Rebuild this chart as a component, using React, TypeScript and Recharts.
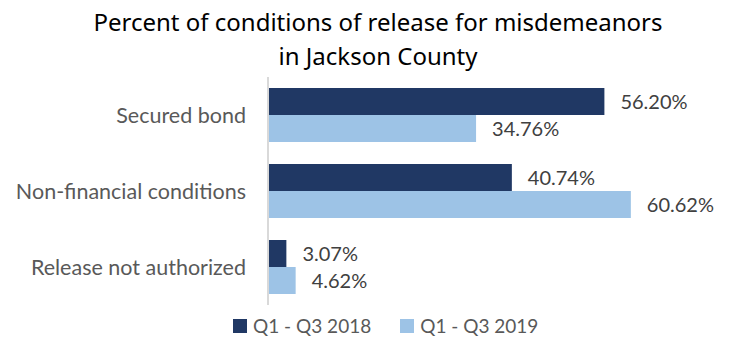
import { BarChart, Bar, XAxis, YAxis, LabelList } from 'recharts';

const categories = ['Secured bond', 'Non-financial conditions', 'Release not authorized'];
const values2018 = [56.2, 40.74, 3.07];
const values2019 = [34.76, 60.62, 4.62];
const seriesNames = ['Q1 - Q3 2018', 'Q1 - Q3 2019'];
const colors = ['#203864', '#9DC3E6'];

const data = categories.map((name, i) => ({
  name,
  y2018: values2018[i],
  y2019: values2019[i],
}));

const fmt = (v: any) => `${Number(v).toFixed(2)}%`;

export default function App() {
  return (
    <div style={{ position: 'absolute', left: 0, top: 0, width: 736, height: 339, background: '#fff' }}>
      <div
        style={{
          position: 'absolute',
          left: 10,
          top: 5,
          width: 736,
          textAlign: 'center',
          fontFamily: 'Noto Sans',
          fontSize: 24,
          lineHeight: '34px',
          color: '#000',
        }}
      >
        Percent of conditions of release for misdemeanors
        <br />
        in Jackson County
      </div>
      <BarChart
        width={736}
        height={339}
        data={data}
        layout="vertical"
        margin={{ top: 77, right: 49, bottom: 34, left: 0 }}
        barCategoryGap={11}
        barGap={0}
      >
        <XAxis type="number" domain={[0, 70]} hide />
        <YAxis
          type="category"
          dataKey="name"
          width={268}
          tickLine={false}
          tickSize={0}
          tickMargin={22}
          axisLine={{ stroke: '#D9D9D9', strokeWidth: 2 }}
          tick={{ fill: '#595959', fontSize: 21.5, fontFamily: 'Lato' }}
        />
        <Bar dataKey="y2018" name={seriesNames[0]} fill={colors[0]} isAnimationActive={false}>
          <LabelList
            dataKey="y2018"
            position="right"
            offset={16}
            formatter={fmt}
            style={{ fill: '#404040', fontSize: 20, fontFamily: 'Lato' }}
          />
        </Bar>
        <Bar dataKey="y2019" name={seriesNames[1]} fill={colors[1]} isAnimationActive={false}>
          <LabelList
            dataKey="y2019"
            position="right"
            offset={16}
            formatter={fmt}
            style={{ fill: '#404040', fontSize: 20, fontFamily: 'Lato' }}
          />
        </Bar>
      </BarChart>
      <div
        style={{
          position: 'absolute',
          left: 233,
          top: 314,
          display: 'flex',
          alignItems: 'center',
          gap: 29,
        }}
      >
        {seriesNames.map((s, i) => (
          <div key={s} style={{ display: 'flex', alignItems: 'center' }}>
            <span
              style={{ width: 14, height: 14, background: colors[i], display: 'inline-block', marginRight: 6 }}
            />
            <span style={{ fontSize: 19, color: '#595959', fontFamily: 'Lato' }}>{s}</span>
          </div>
        ))}
      </div>
    </div>
  );
}
